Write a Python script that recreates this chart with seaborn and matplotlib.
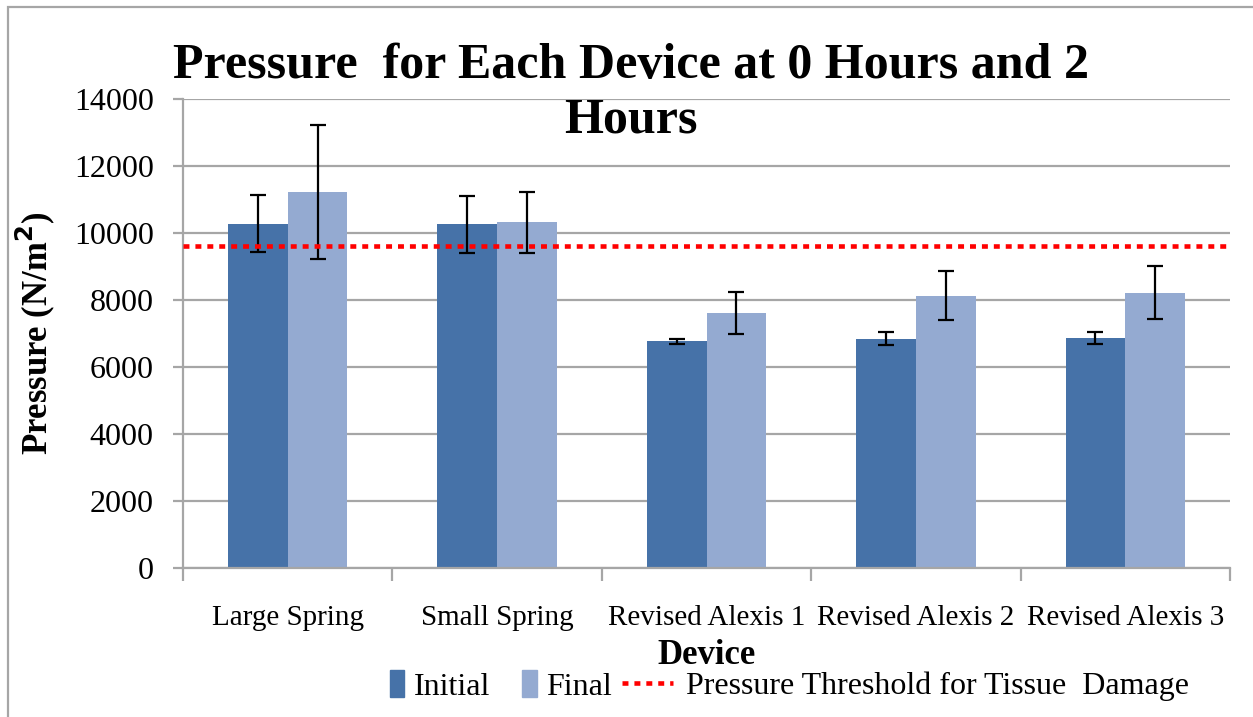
import pandas as pd
import numpy as np
import matplotlib
matplotlib.use("Agg")
import matplotlib.pyplot as plt
import seaborn as sns
from matplotlib.patches import Rectangle

# ===============================
# DATA
# ===============================
devices = ["Large Spring", "Small Spring", "Revised Alexis 1", "Revised Alexis 2", "Revised Alexis 3"]
initial = [10280, 10260, 6766, 6841, 6870]
final = [11224, 10318, 7616, 8134, 8223]
initial_err = [850, 850, 70, 194, 184]
final_err = [2000, 915, 622, 731, 800]
threshold = 9600
yticks = [0, 2000, 4000, 6000, 8000, 10000, 12000, 14000]

data = pd.DataFrame({
    "Device": devices * 2,
    "Pressure": initial + final,
    "Time": ["Initial"] * len(devices) + ["Final"] * len(devices),
})

# ===============================
# STYLE
# ===============================
sns.set_style("white")
plt.rcParams["font.family"] = ["Liberation Serif", "DejaVu Serif"]
for key in ["text.color", "axes.labelcolor", "xtick.color", "ytick.color"]:
    plt.rcParams[key] = "black"
GRID = "#a6a6a6"
C_INIT = "#4672a8"
C_FIN = "#94aad1"

fig = plt.figure(figsize=(12.53, 7.17), dpi=100)
ax = fig.add_axes([183 / 1253, 1 - 568 / 717, (1230 - 183) / 1253, (568 - 99) / 717])

sns.barplot(data=data, x="Device", y="Pressure", hue="Time",
            palette={"Initial": C_INIT, "Final": C_FIN},
            width=0.57, gap=0, saturation=1, linewidth=0, errorbar=None, ax=ax)

# Error bars on top of the seaborn bars
for container, errs in zip(ax.containers, [initial_err, final_err]):
    xs = [p.get_x() + p.get_width() / 2 for p in container]
    ys = [p.get_height() for p in container]
    ax.errorbar(xs, ys, yerr=errs, fmt="none", ecolor="black",
                elinewidth=1.6, capsize=5.5, capthick=1.6, zorder=5)

# Threshold line
thr_line = ax.axhline(threshold, color="#ff0000", linewidth=3.3,
                      linestyle=(0, (1.3, 1.3)), dash_capstyle="butt", zorder=6,
                      label="Pressure Threshold for Tissue  Damage")

# Axes styling
ax.set_ylim(0, 14000)
ax.set_xlim(-0.5, len(devices) - 0.5)
ax.set_yticks(yticks)
ax.set_yticklabels([str(t) for t in yticks], fontsize=23)
ax.yaxis.grid(True, color=GRID, linewidth=1.6)
ax.set_axisbelow(True)
for side in ["top", "right"]:
    ax.spines[side].set_visible(False)
for side in ["left", "bottom"]:
    ax.spines[side].set_color(GRID)
    ax.spines[side].set_linewidth(1.6)
ax.tick_params(axis="y", left=True, length=7, width=1.6, color=GRID, pad=14)
ax.set_xticks(range(len(devices)))
ax.set_xticklabels(devices, fontsize=21)
ax.tick_params(axis="x", bottom=False, pad=23)
ax.set_xticks(np.arange(-0.5, len(devices), 1), minor=True)
ax.tick_params(axis="x", which="minor", bottom=True, length=9, width=1.6, color=GRID)

ax.set_ylabel("Pressure (N/m$^\\mathbf{2}$)", fontsize=25, fontweight="bold", labelpad=12)
ax.set_xlabel("Device", fontsize=25, fontweight="bold", labelpad=6)

# Legend at the bottom (patches and line kept apart so the dotted handle is longer)
ax.get_legend().remove()
leg_y = 1 - 686 / 717
h_init = plt.Rectangle((0, 0), 1, 1, color=C_INIT)
h_fin = plt.Rectangle((0, 0), 1, 1, color=C_FIN)
fig.legend([h_init, h_fin], ["Initial", "Final"],
           loc="center left", bbox_to_anchor=(390 / 1253, leg_y), ncol=2,
           frameon=False, fontsize=23, handlelength=0.45, handleheight=0.9,
           handletextpad=0.3, columnspacing=1.0, borderpad=0, borderaxespad=0)
fig.legend([thr_line], [thr_line.get_label()],
           loc="center left", bbox_to_anchor=(622 / 1253, leg_y),
           frameon=False, fontsize=23, handlelength=1.6,
           handletextpad=0.4, borderpad=0, borderaxespad=0)

# Title
fig.text(631 / 1253, 1 - 43 / 717, "Pressure  for Each Device at 0 Hours and 2\nHours",
         ha="center", va="top", fontsize=36, fontweight="bold", linespacing=1.25)

# Outer chart border
fig.add_artist(Rectangle((8 / 1253, -0.1), 1.2, 1.1 - 7 / 717, transform=fig.transFigure,
                         fill=False, edgecolor=GRID, linewidth=1.6, clip_on=False))

fig.savefig("out.png", dpi=100)
